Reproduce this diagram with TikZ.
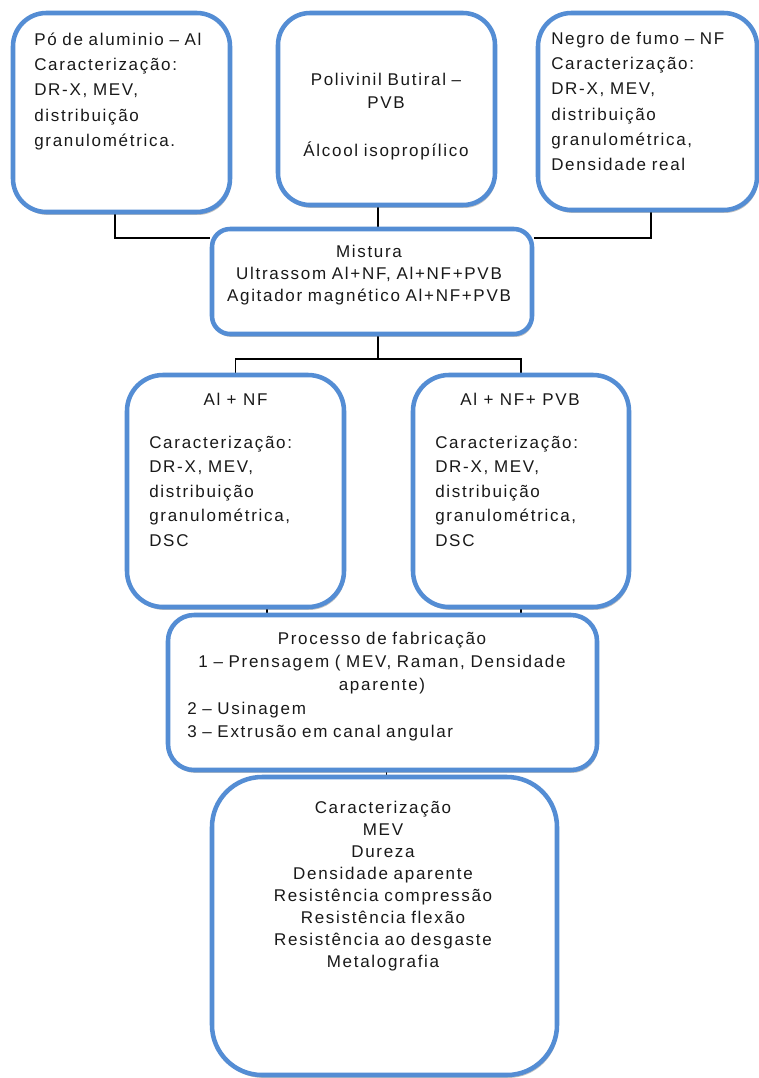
\documentclass[tikz,border=0pt]{standalone}
\usepackage{fontspec}
\setmainfont{Liberation Sans}[LetterSpace=10]
\usetikzlibrary{fit,shadows,backgrounds}
\definecolor{boxblue}{RGB}{84,141,212}
\definecolor{txtcol}{RGB}{25,25,25}
\begin{document}
\begin{tikzpicture}[x=0.75pt,y=-0.75pt,
  box/.style={draw=boxblue, line width=3.4pt, fill=white, inner sep=0pt,
    drop shadow={shadow xshift=0.9pt, shadow yshift=-2.2pt, opacity=0.35, fill=black!70}},
  conn/.style={draw=black, line width=1.3pt},
  txt/.style={inner sep=0pt, text=txtcol},
  fa/.style={font=\fontsize{12.75pt}{19pt}\selectfont},
  fb/.style={font=\fontsize{12.75pt}{18.4pt}\selectfont},
  fc/.style={font=\fontsize{12.75pt}{17.5pt}\selectfont},
  fd/.style={font=\fontsize{12.75pt}{16.6pt}\selectfont},
  fe/.style={font=\fontsize{12.75pt}{17.25pt}\selectfont}]
\useasboundingbox (0,0) rectangle (759,1078);

% boxes
\node[box, rounded corners=25pt, fit={(13,13) (230,212)}] (boxA) {};
\node[box, rounded corners=24pt, fit={(278,13) (495,205)}] (boxB) {};
\node[box, rounded corners=25pt, fit={(538,13) (757,210)}] (boxC) {};
\node[box, rounded corners=13.5pt, fit={(212,229) (532,334)}] (mist) {};
\node[box, rounded corners=27pt, fit={(127,375) (344,607)}] (alnf) {};
\node[box, rounded corners=27pt, fit={(413,375) (629,607)}] (alnfpvb) {};
\node[box, rounded corners=19.5pt, fit={(168,615) (597,770)}] (proc) {};
\node[box, rounded corners=37.5pt, fit={(212,777) (557,1075)}] (carac) {};

% texts
\node[txt, fa, anchor=base west, text width=142pt, align=left] (tA) at (34,45)
  {Pó de aluminio – Al\\Caracterização:\\DR-X, MEV,\\distribuição\\granulométrica.};
\node[txt, fe, anchor=base, text width=150pt, align=center] (tB) at (386,85)
  {Polivinil Butiral –\\PVB\\[18.75pt]Álcool isopropílico};
\node[txt, fa, anchor=base west, text width=142pt, align=left] (tC) at (551,44)
  {Negro de fumo – NF\\Caracterização:\\DR-X, MEV,\\distribuição\\granulométrica,\\Densidade real};
\node[txt, fd, anchor=base, text width=232pt, align=center] (tM) at (369,257)
  {Mistura\\Ultrassom Al+NF, Al+NF+PVB\\Agitador magnético Al+NF+PVB};
\node[txt, fb, anchor=base] (t1a) at (235.5,405) {Al + NF};
\node[txt, fb, anchor=base west, text width=135pt, align=left] (t1b) at (149,448)
  {Caracterização:\\DR-X, MEV,\\distribuição\\granulométrica,\\DSC};
\node[txt, fb, anchor=base] (t2a) at (520,405) {Al + NF+ PVB};
\node[txt, fb, anchor=base west, text width=135pt, align=left] (t2b) at (435,448)
  {Caracterização:\\DR-X, MEV,\\distribuição\\granulométrica,\\DSC};
\node[txt, fc, anchor=base, text width=315pt, align=center] (tP1) at (382,644)
  {Processo de fabricação\\1 – Prensagem ( MEV, Raman, Densidade\\aparente)};
\node[txt, fc, anchor=base west, text width=285pt, align=left] (tP2) at (187,714)
  {2 – Usinagem\\3 – Extrusão em canal angular};
\node[txt, fd, anchor=base, text width=247pt, align=center] (tK) at (383,813)
  {Caracterização\\MEV\\Dureza\\Densidade aparente\\Resistência compressão\\Resistência flexão\\Resistência ao desgaste\\Metalografia};

% junction coordinates
\coordinate (jA) at (115,238);
\coordinate (jC) at (651,238);
\coordinate (xB) at (378,220);
\coordinate (jM) at (378,359);
\coordinate (x1) at (267,611);
\coordinate (xP) at (386.5,773);

\begin{pgfonlayer}{background}
\fill[white] (0,0) rectangle (759,1078);
\draw[conn] (boxA.south -| jA) -- (jA) -- (jA -| mist.west);
\draw[conn] (boxC.south -| jC) -- (jC) -- (jC -| mist.east);
\draw[conn] (boxB.south -| xB) -- (mist.north -| xB);
\draw[conn] (mist.south -| jM) -- (jM);
\draw[conn] (alnf.north) |- (jM) -| (alnfpvb.north);
\draw[conn] (alnf.south -| x1) -- (proc.north -| x1);
\draw[conn] (alnfpvb.south) -- (proc.north -| alnfpvb.south);
\draw[conn] (proc.south -| xP) -- (carac.north -| xP);
\end{pgfonlayer}
\end{tikzpicture}
\end{document}
